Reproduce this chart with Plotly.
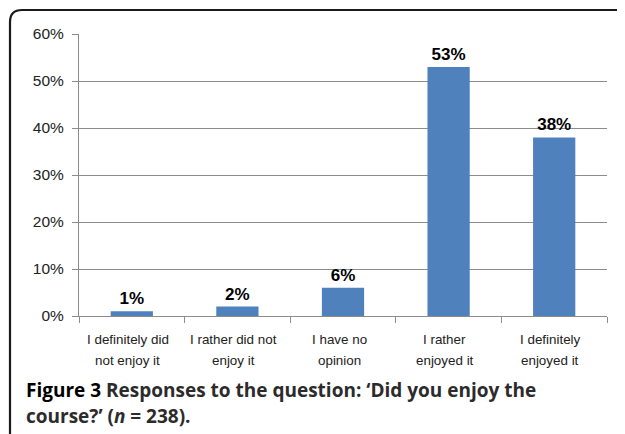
import plotly.graph_objects as go

categories = ["I definitely did<br>not enjoy it", "I rather did not<br>enjoy it",
              "I have no<br>opinion", "I rather<br>enjoyed it", "I definitely<br>enjoyed it"]
values = [1, 2, 6, 53, 38]
labels = ["1%", "2%", "6%", "53%", "38%"]
y_ticks = [0, 10, 20, 30, 40, 50, 60]
y_tick_labels = ["0%", "10%", "20%", "30%", "40%", "50%", "60%"]

# page has an 8px body margin, so the figure is made 8px smaller and shifted
OFF = 8
W, H = 625 - OFF, 434 - OFF
L, R, T, B = 79 - OFF, 18, 34 - OFF, 118
pw, ph = W - L - R, H - T - B

def px(x):  # x in window pixels
    return (x - OFF - L) / pw

def py(y):  # y in window pixels
    return (H - B - (y - OFF)) / ph

fig = go.Figure(go.Bar(
    x=categories, y=values, text=labels, textposition="outside",
    textfont=dict(family="Liberation Sans", size=17, color="black", weight="bold"),
    marker=dict(color="#4f81bd", line=dict(width=0)), width=0.4, cliponaxis=False,
))

fig.update_layout(
    width=W, height=H, margin=dict(l=L, r=R, t=T, b=B, autoexpand=False),
    paper_bgcolor="white", plot_bgcolor="white", showlegend=False,
    xaxis=dict(tickson="boundaries", ticks="outside", ticklen=6, tickcolor="#8c8c8c",
               showline=True, linecolor="#8c8c8c", linewidth=1, showgrid=False,
               showticklabels=False),
    yaxis=dict(range=[0, 60], tickvals=y_ticks, ticktext=y_tick_labels,
               ticks="outside", ticklen=6, tickcolor="#8c8c8c",
               showline=True, linecolor="#8c8c8c", linewidth=1,
               showgrid=True, gridcolor="#8c8c8c", gridwidth=1, zeroline=False,
               tickfont=dict(family="Liberation Sans", size=15.5, color="#222"),
               ticklabelstandoff=5),
)

# category labels, two lines each with the reference's wide line spacing
for cat in categories:
    for i, line in enumerate(cat.split("<br>")):
        fig.add_annotation(
            x=cat, y=py(339 + 21 * i), xref="x", yref="paper", xshift=-4,
            xanchor="center", yanchor="middle", showarrow=False, text=line,
            font=dict(family="Liberation Sans", size=13.4, color="#222"))

# rounded frame
r = 12
path = (f"M {px(10)} {py(450)} L {px(10)} {py(10 + r)} "
        f"Q {px(10)} {py(10)} {px(10 + r)} {py(10)} L {px(640)} {py(10)}")
fig.add_shape(type="path", path=path, xref="paper", yref="paper",
              line=dict(color="#1a1a1a", width=2.2))

fig.add_annotation(
    x=px(24), y=py(390), xref="paper", yref="paper", xanchor="left", yanchor="middle",
    showarrow=False, align="left",
    text="<b>Figure 3</b> <span style='color:#2b2b2b'><b>Responses to the question: \u2018Did you enjoy the</b></span>",
    font=dict(family="Open Sans", size=19, color="black"))
fig.add_annotation(
    x=px(24), y=py(416), xref="paper", yref="paper", xanchor="left", yanchor="middle",
    showarrow=False, align="left",
    text="<span style='color:#2b2b2b'><b>course?\u2019 (<i>n</i> = 238).</b></span>",
    font=dict(family="Open Sans", size=19, color="black"))

fig.write_html("out.html")
